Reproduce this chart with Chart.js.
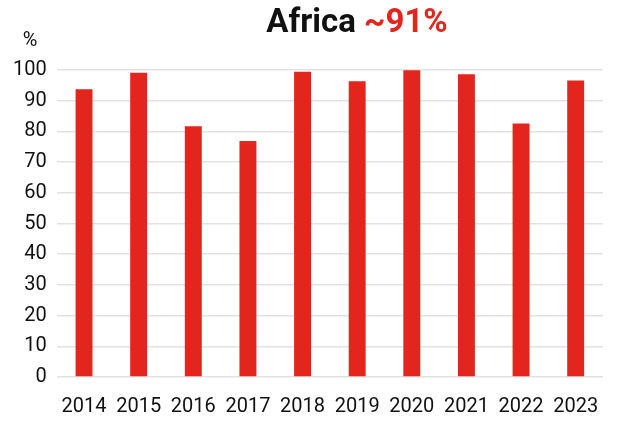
<!DOCTYPE html>
<html>
<head>
<meta charset="utf-8">
<script src="https://cdn.jsdelivr.net/npm/chart.js@4"></script>
<style>
    html, body { margin: 0; padding: 0; background: #ffffff; }
    #wrap { width: 619px; height: 423px; position: relative; }
</style>
</head>
<body>
<div id="wrap"><canvas id="africaChart"></canvas></div>
<script>
const years = ['2014', '2015', '2016', '2017', '2018', '2019', '2020', '2021', '2022', '2023'];
const shares = [93.7, 99.1, 81.7, 76.9, 99.4, 96.3, 99.9, 98.6, 82.6, 96.6];
const yTicks = [0, 10, 20, 30, 40, 50, 60, 70, 80, 90, 100];
const titleMain = 'Africa';
const titleValue = '~91%';
const unitLabel = '%';

const RED = '#e2261d';

// Two-colour title plus the unit label above the y axis
const titlePlugin = {
    id: 'titleText',
    afterDraw(chart) {
        const ctx = chart.ctx;
        ctx.save();
        ctx.font = 'bold 33px Roboto';
        ctx.textBaseline = 'alphabetic';
        const mainText = titleMain + ' ';
        const w1 = ctx.measureText(mainText).width;
        const w2 = ctx.measureText(titleValue).width;
        const cx = 357;
        let x = cx - (w1 + w2) / 2;
        ctx.fillStyle = '#111111';
        ctx.textAlign = 'left';
        ctx.fillText(mainText, x, 32);
        ctx.fillStyle = RED;
        ctx.fillText(titleValue, x + w1, 32);

        ctx.font = '20px Roboto';
        ctx.fillStyle = '#111111';
        ctx.textAlign = 'center';
        ctx.fillText(unitLabel, 30, 46);
        ctx.restore();
    }
};

const canvas = document.getElementById('africaChart');
new Chart(canvas, {
    type: 'bar',
    data: {
        labels: years,
        datasets: [{
            data: shares,
            backgroundColor: RED,
            borderWidth: 0,
            categoryPercentage: 1,
            barPercentage: 0.31
        }]
    },
    options: {
        responsive: true,
        maintainAspectRatio: false,
        animation: false,
        layout: { padding: { top: 70, right: 16, left: 3, bottom: 0 } },
        plugins: {
            legend: { display: false },
            tooltip: { enabled: false }
        },
        scales: {
            x: {
                afterFit(scale) { scale.height = 46; },
                grid: { display: false },
                border: { display: false },
                ticks: {
                    color: '#111111',
                    font: { family: 'Roboto', size: 20 },
                    padding: 10,
                    maxRotation: 0
                }
            },
            y: {
                min: 0,
                max: 100,
                afterBuildTicks(axis) {
                    axis.ticks = yTicks.map(v => ({ value: v }));
                },
                grid: { color: '#e2e2e2', lineWidth: 1.5, drawTicks: false },
                border: { display: false },
                ticks: {
                    color: '#111111',
                    font: { family: 'Roboto', size: 20 },
                    padding: 10
                }
            }
        }
    },
    plugins: [titlePlugin]
});
</script>
</body>
</html>
